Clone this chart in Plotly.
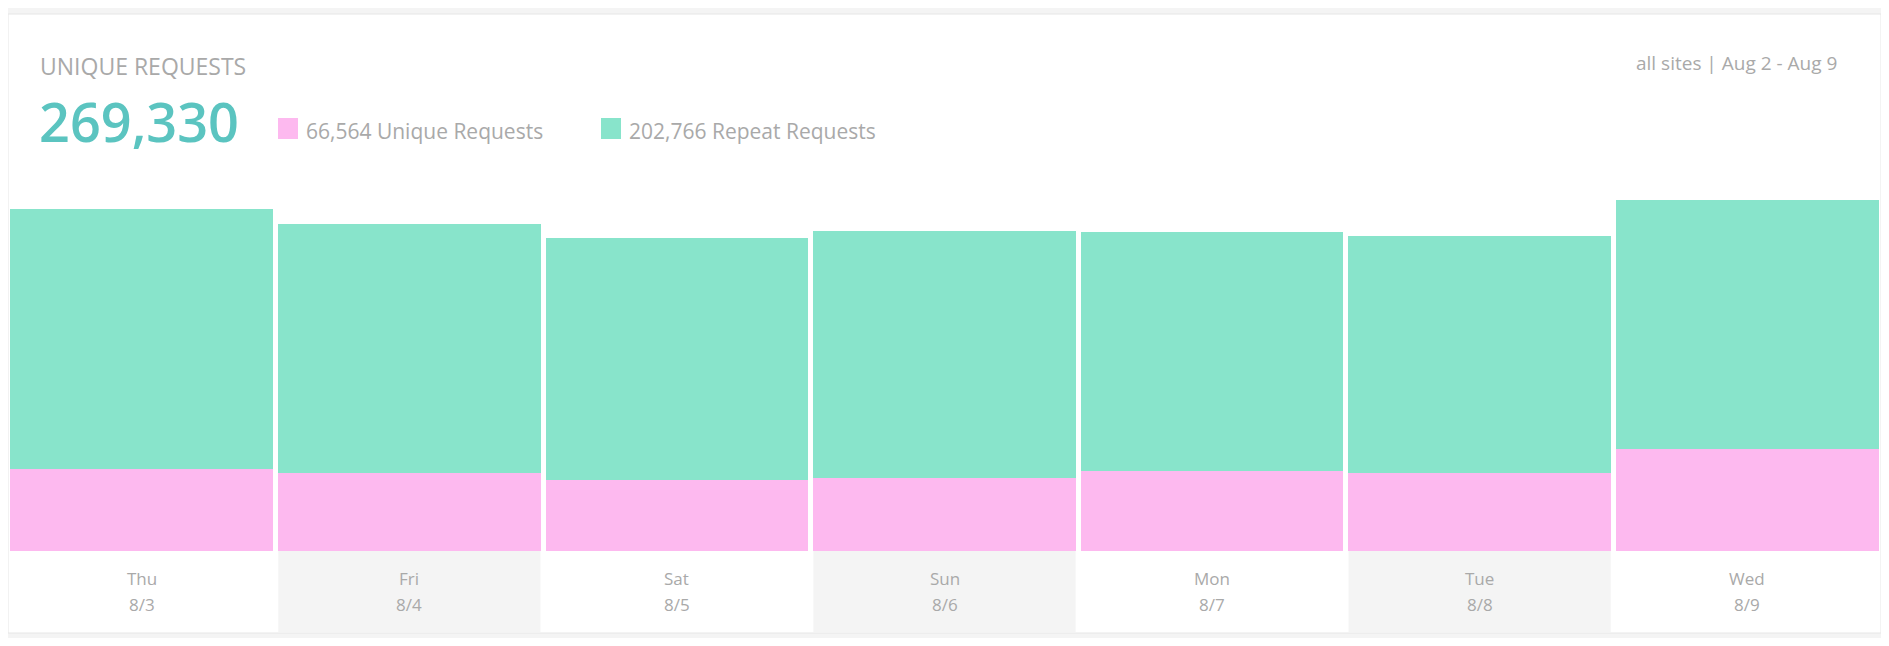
import plotly.graph_objects as go

days = ["Thu", "Fri", "Sat", "Sun", "Mon", "Tue", "Wed"]
dates = ["8/3", "8/4", "8/5", "8/6", "8/7", "8/8", "8/9"]
unique = [9700, 9150, 8420, 8560, 9420, 9150, 12000]
repeat = [30530, 29390, 28400, 29110, 28120, 27970, 29390]
total_label = "269,330"
unique_label = "66,564 Unique Requests"
repeat_label = "202,766 Repeat Requests"

OFF = 8
W, H = 1889 - 2 * OFF, 646 - 2 * OFF
PINK, GREEN, GREY = "#fdb9ef", "#88e4cb", "#a9a9a9"
FONT = "Open Sans"

def py(px):
    return 1 - (px - OFF) / H

def pxx(px):
    return (px - OFF) / W

fig = go.Figure()
fig.add_bar(x=list(range(7)), y=unique, marker=dict(color=PINK, line_width=0), hoverinfo="skip")
fig.add_bar(x=list(range(7)), y=repeat, marker=dict(color=GREEN, line_width=0), hoverinfo="skip")

shapes = [dict(type="rect", xref="paper", yref="paper", x0=pxx(8), x1=pxx(1881), y0=py(633), y1=py(14),
               fillcolor="white", line=dict(color="#e6e6e6", width=1), layer="below")]
for i in range(7):
    if i % 2 == 1:
        shapes.append(dict(type="rect", xref="x", yref="paper", x0=i - 0.5 + 0.01, x1=i + 0.5 - 0.01,
                           y0=py(632), y1=py(551), fillcolor="#f4f4f4", line_width=0, layer="below"))

def ann(x, y, text, size, color=GREY, xanchor="center", xref="paper", weight=None):
    f = dict(size=size, color=color, family=FONT)
    if weight:
        f["weight"] = weight
    return dict(x=x, y=y, xref=xref, yref="paper", text=text, xanchor=xanchor, yanchor="middle",
                showarrow=False, font=f)

annotations = []
for i, (d, dt) in enumerate(zip(days, dates)):
    annotations.append(ann(i, py(578), d, 17, xref="x"))
    annotations.append(ann(i, py(604), dt, 17, xref="x"))
annotations += [
    ann(pxx(38), py(66), "UNIQUE REQUESTS", 23, xanchor="left"),
    ann(pxx(37), py(121), total_label, 54, color="#5bc4c0", xanchor="left", weight=600),
    ann(pxx(304), py(131), unique_label, 21, xanchor="left"),
    ann(pxx(627), py(131), repeat_label, 21, xanchor="left"),
    ann(pxx(1839), py(63), "all sites | Aug 2 - Aug 9", 19, xanchor="right"),
]
shapes += [
    dict(type="rect", xref="paper", yref="paper", x0=pxx(278), x1=pxx(298), y0=py(139), y1=py(118), fillcolor=PINK, line_width=0),
    dict(type="rect", xref="paper", yref="paper", x0=pxx(601), x1=pxx(621), y0=py(139), y1=py(118), fillcolor=GREEN, line_width=0),
]

fig.update_layout(
    width=W, height=H, barmode="stack", bargap=0.018, showlegend=False,
    paper_bgcolor="#f4f4f4", plot_bgcolor="rgba(0,0,0,0)",
    margin=dict(l=0, r=0, t=0, b=0),
    xaxis=dict(domain=[pxx(8), pxx(1881)], range=[-0.5, 6.5], visible=False, fixedrange=True),
    yaxis=dict(domain=[py(551), py(169)], range=[0, 45000], visible=False, fixedrange=True),
    shapes=shapes, annotations=annotations,
)
fig.write_html("out.html", config={"displayModeBar": False})
